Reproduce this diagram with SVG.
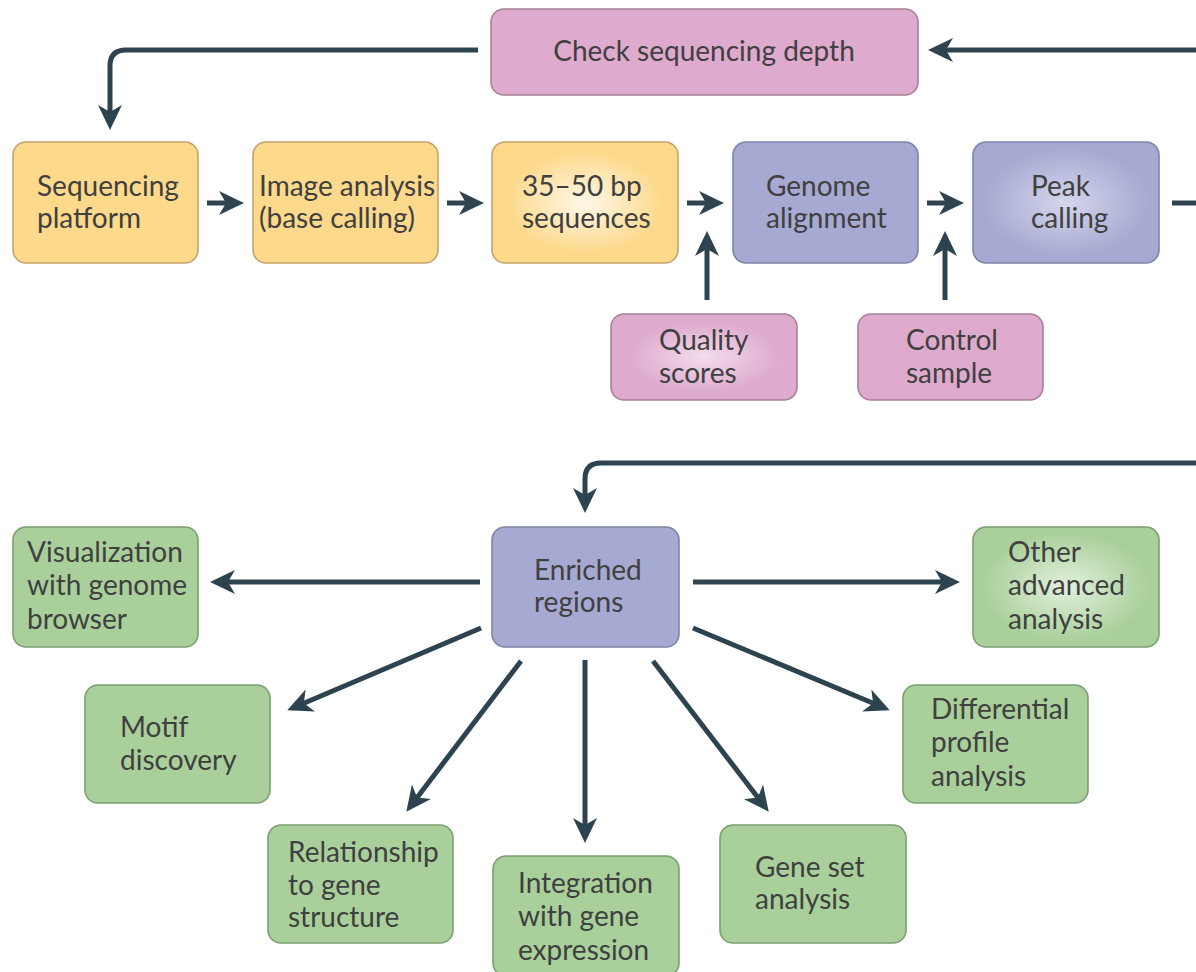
<svg xmlns="http://www.w3.org/2000/svg" width="1196" height="972" viewBox="0 0 1196 972">
<defs>
<style>
.box{stroke-width:1.6}
.y{fill:#FDD98C;stroke:#C4A36A}
.p{fill:#DEAACD;stroke:#A98099}
.b{fill:#A6A9D1;stroke:#8083A8}
.g{fill:#A9D09B;stroke:#7C9F70}
text{font-family:Lato,"Open Sans","Liberation Sans",sans-serif;font-size:28px;font-weight:400;fill:#404040}
.c{text-anchor:middle}
.conn path{fill:none;stroke:#2D4350;stroke-width:5}
</style>
<marker id="ah" markerUnits="userSpaceOnUse" markerWidth="26" markerHeight="26" viewBox="0 0 26 26" refX="9" refY="13" orient="auto">
<path d="M0,1 L25,13 L0,25 L7,13 z" fill="#2D4350"/>
</marker>
<radialGradient id="gy" cx="0.5" cy="0.5" r="0.6"><stop offset="0" stop-color="#FFF8E8"/><stop offset="0.7" stop-color="#FDD98C"/></radialGradient>
<radialGradient id="gb" cx="0.5" cy="0.5" r="0.6"><stop offset="0" stop-color="#D4D6EC"/><stop offset="0.75" stop-color="#A6A9D1"/></radialGradient>
<radialGradient id="gp" cx="0.5" cy="0.5" r="0.55"><stop offset="0" stop-color="#F3DDEC"/><stop offset="0.75" stop-color="#DEAACD"/></radialGradient>
<radialGradient id="gg" cx="0.5" cy="0.5" r="0.6"><stop offset="0" stop-color="#E3F0DC"/><stop offset="0.75" stop-color="#A9D09B"/></radialGradient>
</defs>
<rect width="1196" height="972" fill="#FFFFFF"/>

<g class="conn" id="connectors">
<path d="M478,50 H126 Q110,50 110,66 V114" marker-end="url(#ah)"/>
<path d="M1196,50 H944" marker-end="url(#ah)"/>
<path d="M207,203 H228" marker-end="url(#ah)"/>
<path d="M447,203 H468" marker-end="url(#ah)"/>
<path d="M687,203 H708" marker-end="url(#ah)"/>
<path d="M927,203 H948" marker-end="url(#ah)"/>
<path d="M1172,203 H1196"/>
<path d="M707,300 V247" marker-end="url(#ah)"/>
<path d="M945,300 V247" marker-end="url(#ah)"/>
<path d="M1196,463 H601 Q585,463 585,479 V497" marker-end="url(#ah)"/>
<path d="M480,582 H226" marker-end="url(#ah)"/>
<path d="M693,582 H944" marker-end="url(#ah)"/>
<path d="M481,628 L302,704" marker-end="url(#ah)"/>
<path d="M693,628 L875,704" marker-end="url(#ah)"/>
<path d="M521,661 L416,799" marker-end="url(#ah)"/>
<path d="M585,660 V827" marker-end="url(#ah)"/>
<path d="M653,661 L759,799" marker-end="url(#ah)"/>
</g>

<g id="check-depth"><rect class="box p" x="491" y="9" width="427" height="86" rx="13"/><text class="c" x="704" y="61">Check sequencing depth</text></g>

<g id="seq-platform"><rect class="box y" x="13" y="142" width="185" height="121" rx="13"/><text x="37" y="196">Sequencing</text><text x="37" y="228">platform</text></g>
<g id="image-analysis"><rect class="box y" x="253" y="142" width="185" height="121" rx="13"/><text x="259" y="196">Image analysis</text><text x="259" y="228">(base calling)</text></g>
<g id="sequences"><rect class="box y" x="492" y="142" width="186" height="121" rx="13" style="fill:url(#gy)"/><text x="522" y="196">35–50 bp</text><text x="522" y="228">sequences</text></g>
<g id="genome-alignment"><rect class="box b" x="733" y="142" width="185" height="121" rx="13"/><text x="766" y="196">Genome</text><text x="766" y="228">alignment</text></g>
<g id="peak-calling"><rect class="box b" x="973" y="142" width="186" height="121" rx="13" style="fill:url(#gb)"/><text x="1031" y="196">Peak</text><text x="1031" y="228">calling</text></g>

<g id="quality-scores"><rect class="box p" x="611" y="314" width="186" height="86" rx="13" style="fill:url(#gp)"/><text x="659" y="350">Quality</text><text x="659" y="383">scores</text></g>
<g id="control-sample"><rect class="box p" x="858" y="314" width="185" height="86" rx="13"/><text x="906" y="350">Control</text><text x="906" y="383">sample</text></g>

<g id="enriched"><rect class="box b" x="492" y="527" width="187" height="120" rx="13"/><text x="534" y="580">Enriched</text><text x="534" y="612">regions</text></g>

<g id="visualization"><rect class="box g" x="13" y="527" width="185" height="120" rx="13"/><text x="27" y="562">Visualization</text><text x="27" y="595">with genome</text><text x="27" y="629">browser</text></g>
<g id="other-advanced"><rect class="box g" x="973" y="527" width="186" height="120" rx="13" style="fill:url(#gg)"/><text x="1008" y="562">Other</text><text x="1008" y="595">advanced</text><text x="1008" y="629">analysis</text></g>
<g id="motif"><rect class="box g" x="85" y="685" width="185" height="118" rx="13"/><text x="120" y="737">Motif</text><text x="120" y="770">discovery</text></g>
<g id="differential"><rect class="box g" x="903" y="685" width="185" height="118" rx="13"/><text x="931" y="719">Differential</text><text x="931" y="752">profile</text><text x="931" y="786">analysis</text></g>
<g id="relationship"><rect class="box g" x="268" y="825" width="185" height="118" rx="13"/><text x="288" y="862">Relationship</text><text x="288" y="895">to gene</text><text x="288" y="927">structure</text></g>
<g id="integration"><rect class="box g" x="493" y="856" width="186" height="120" rx="13"/><text x="518" y="893">Integration</text><text x="518" y="926">with gene</text><text x="518" y="960">expression</text></g>
<g id="gene-set"><rect class="box g" x="720" y="825" width="186" height="118" rx="13"/><text x="755" y="877">Gene set</text><text x="755" y="909">analysis</text></g>
</svg>
